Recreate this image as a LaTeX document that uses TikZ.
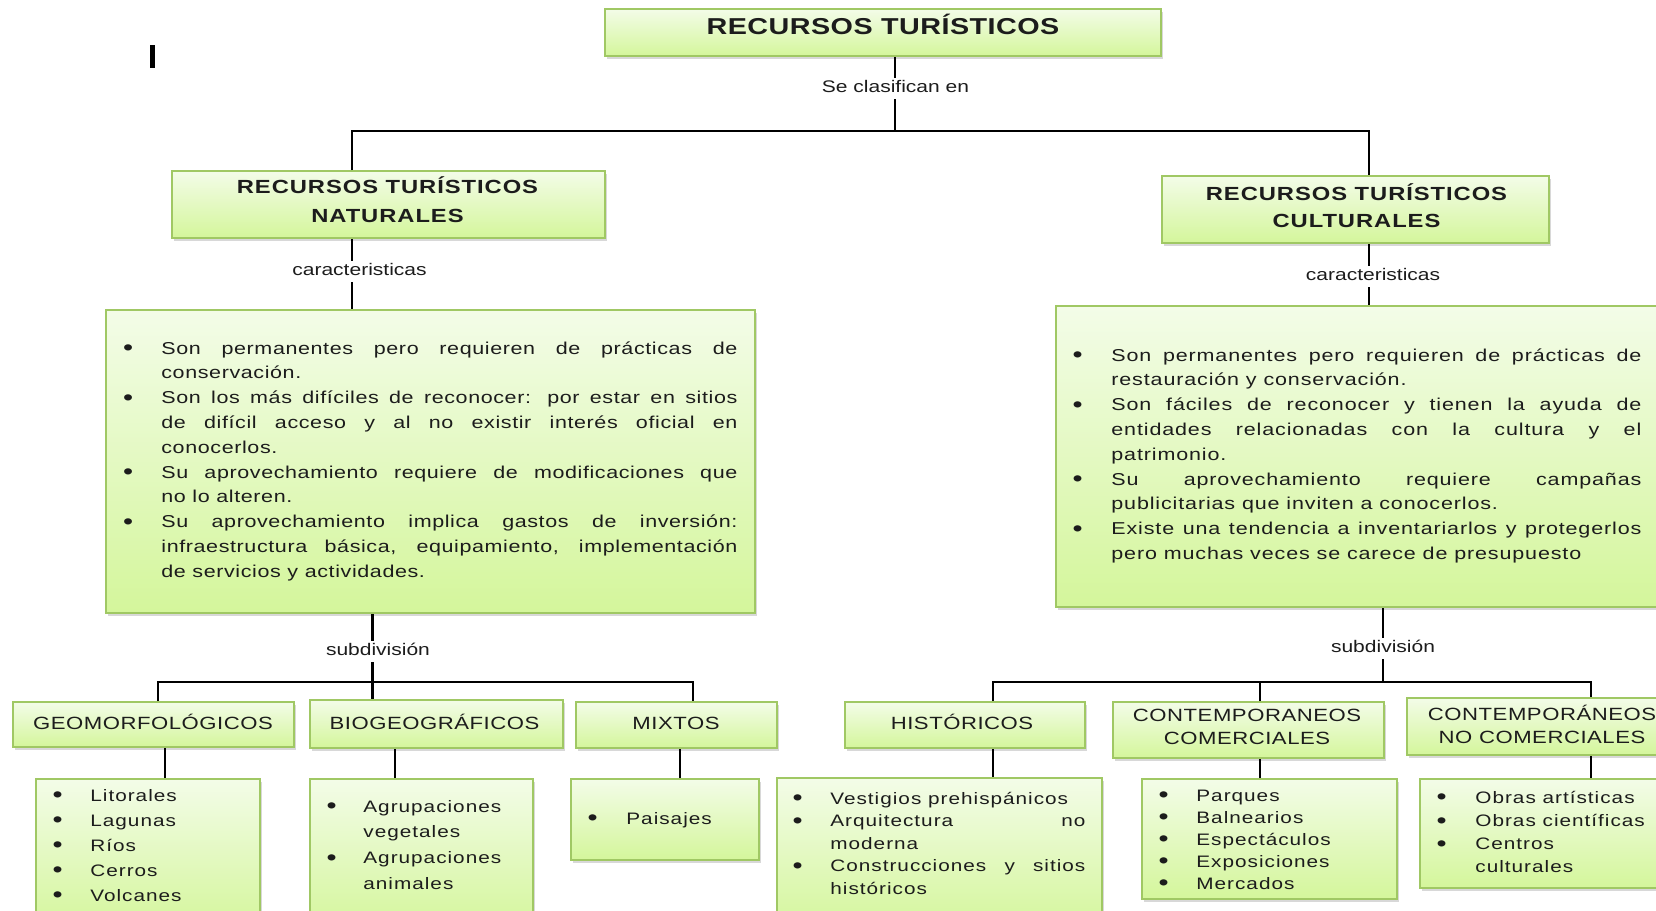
\documentclass[tikz,border=0pt]{standalone}
\usepackage{fontspec}
\setmainfont{Liberation Sans}[FakeStretch=1.25]
\usetikzlibrary{shadows,fit}
\definecolor{gtop}{RGB}{243,252,232}
\definecolor{gbot}{RGB}{212,246,155}
\definecolor{gborder}{RGB}{160,200,100}
\definecolor{ink}{RGB}{28,28,28}
\newlength\hw
\newcommand\bigbul{\raisebox{-0.9pt}{\fontsize{11.5}{11}\selectfont\addfontfeature{LetterSpace=0}\textbullet}}
\newcommand\bitem{\par\noindent\hangindent=\hw\hangafter=1\makebox[\hw][l]{\hspace{-0.6pt}\bigbul}\ignorespaces}
\newcommand\setpar{\tolerance=10000\hyphenpenalty=10000\exhyphenpenalty=10000\parindent=0pt\parskip=0pt}
\tikzset{
  gbox/.style={draw=gborder, line width=1pt, top color=gtop, bottom color=gbot, inner sep=0pt,
    drop shadow={opacity=0.3, shadow xshift=1pt, shadow yshift=-1.5pt}},
  conn/.style={draw=black, line width=1.1pt},
  tx/.style={text=ink, inner sep=0pt},
  ttl/.style={tx, anchor=base, font=\bfseries\fontsize{11.5}{13}\selectfont\addfontfeature{LetterSpace=2}},
  hdr/.style={tx, anchor=base, font=\bfseries\fontsize{9.5}{14.5}\selectfont\addfontfeature{LetterSpace=5}},
  bh/.style={tx, anchor=base, font=\fontsize{8.85}{11.6}\selectfont\addfontfeature{LetterSpace=3}},
  lst/.style={tx, anchor=base west, font=\fontsize{8.3}{12}\selectfont\addfontfeature{LetterSpace=6}},
  big/.style={tx, anchor=base west, font=\fontsize{8.6}{12.4}\selectfont},
  lbl/.style={tx, anchor=base, font=\fontsize{8.4}{10}\selectfont, text height=7pt, text depth=3.5pt},
}
\begin{document}
\begin{tikzpicture}[x=0.5pt, y=-0.5pt]
\useasboundingbox (0,0) rectangle (1656,911);
\clip (0,0) rectangle (1656,911);
\fill[white] (0,0) rectangle (1656,911);

% cursor mark
\fill[black] (150,45) rectangle (155,68);

% boxes
\node[gbox, fit={(605,9) (1161,56)}] (title) {};
\node[gbox, fit={(172,171) (605,238)}] (natH) {};
\node[gbox, fit={(1162,176) (1549,243)}] (culH) {};
\node[gbox, fit={(106,310) (755,613)}] (natB) {};
\node[gbox, fit={(1056,306) (1664,607)}] (culB) {};
\node[gbox, fit={(13,702) (294,747)}] (geo) {};
\node[gbox, fit={(310,700) (563,748)}] (bio) {};
\node[gbox, fit={(576,702) (777,748)}] (mix) {};
\node[gbox, fit={(845,702) (1085,748)}] (hist) {};
\node[gbox, fit={(1113,702) (1384,758)}] (com) {};
\node[gbox, fit={(1407,698) (1677,755)}] (ncom) {};
\node[gbox, fit={(36,779) (260,930)}] (geoL) {};
\node[gbox, fit={(310,779) (533,930)}] (bioL) {};
\node[gbox, fit={(571,779) (759,860)}] (mixL) {};
\node[gbox, fit={(777,778) (1102,930)}] (histL) {};
\node[gbox, fit={(1142,779) (1397,899)}] (comL) {};
\node[gbox, fit={(1420,779) (1690,888)}] (ncomL) {};

% titles
\node[ttl] (titleT) at (883,34.5) {RECURSOS TURÍSTICOS};
\node[hdr] (natT) at (387.5,193) {\parbox[t]{200pt}{\centering RECURSOS TURÍSTICOS\\NATURALES}};
\node[hdr] (culT) at (1356.5,200) {\parbox[t]{200pt}{\baselineskip=13.5pt\centering RECURSOS TURÍSTICOS\\CULTURALES}};

% big texts
\node[big] (natBT) at (124,354) {\parbox[t]{306.5pt}{\addfontfeature{LetterSpace=3.5}\setpar\hw=18.5pt
\bitem Son permanentes pero requieren de prácticas de\linebreak conservación.
\bitem Son los más difíciles de reconocer: por estar en sitios\linebreak de difícil acceso y al no existir interés oficial en\linebreak conocerlos.
\bitem Su aprovechamiento requiere de modificaciones que\linebreak no lo alteren.
\bitem Su aprovechamiento implica gastos de inversión:\linebreak infraestructura básica, equipamiento, implementación\linebreak de servicios y actividades.}};
\node[big] (culBT) at (1073.5,361) {\parbox[t]{283.75pt}{\addfontfeature{LetterSpace=5}\setpar\hw=18.75pt
\bitem Son permanentes pero requieren de prácticas de\linebreak restauración y conservación.
\bitem Son fáciles de reconocer y tienen la ayuda de\linebreak entidades relacionadas con la cultura y el\linebreak patrimonio.
\bitem Su aprovechamiento requiere campañas\linebreak publicitarias que inviten a conocerlos.
\bitem Existe una tendencia a inventariarlos y protegerlos\linebreak pero muchas veces se carece de presupuesto}};

% bottom headers
\node[bh] (geoT) at (153,729) {GEOMORFOLÓGICOS};
\node[bh] (bioT) at (434.5,729) {BIOGEOGRÁFICOS};
\node[bh] (mixT) at (676,729) {MIXTOS};
\node[bh] (histT) at (962,729) {HISTÓRICOS};
\node[bh] (comT) at (1247,721.7) {\parbox[t]{150pt}{\centering CONTEMPORANEOS\\COMERCIALES}};
\node[bh] (ncomT) at (1542,720) {\parbox[t]{150pt}{\centering CONTEMPORÁNEOS\\NO COMERCIALES}};

% lists
\node[lst] (geoLT) at (53.5,801) {\parbox[t]{200pt}{\setpar\hw=18.25pt\baselineskip=12.5pt
\bitem Litorales \bitem Lagunas \bitem Ríos \bitem Cerros \bitem Volcanes}};
\node[lst] (bioLT) at (327.5,812) {\parbox[t]{200pt}{\setpar\hw=17.75pt\baselineskip=12.85pt
\bitem Agrupaciones\newline vegetales \bitem Agrupaciones\newline animales}};
\node[lst] (mixLT) at (588.5,824) {\parbox[t]{200pt}{\setpar\hw=18.75pt
\bitem Paisajes}};
\node[lst] (histLT) at (793.5,804) {\parbox[t]{145.75pt}{\setpar\hw=18.25pt\baselineskip=11.25pt
\bitem Vestigios prehispánicos \bitem Arquitectura no\linebreak moderna \bitem Construcciones y sitios\linebreak históricos}};
\node[lst] (comLT) at (1159.5,801) {\parbox[t]{200pt}{\setpar\hw=18.25pt\baselineskip=11pt
\bitem Parques \bitem Balnearios \bitem Espectáculos \bitem Exposiciones \bitem Mercados}};
\node[lst] (ncomLT) at (1437.5,803) {\parbox[t]{200pt}{\setpar\hw=18.75pt\baselineskip=11.65pt
\bitem Obras artísticas \bitem Obras científicas \bitem Centros\newline culturales}};

% labels
\node[lbl] (sc) at (895.5,92) {Se clasifican en};
\node[lbl] (c1) at (359.5,275) {caracteristicas};
\node[lbl] (c2) at (1373,280) {caracteristicas};
\node[lbl] (s1) at (378,655) {subdivisión};
\node[lbl] (s2) at (1383,652) {subdivisión};

% connectors
\coordinate (jt) at (895,131);
\coordinate (jl) at (352,131);
\coordinate (jr) at (1369,131);
\draw[conn] (jt |- title.south) -- (jt |- sc.north);
\draw[conn] (jt |- sc.south) -- (jt);
\draw[conn] (jl |- natH.north) -- (jl) -- (jr) -- (jr |- culH.north);
\draw[conn] (jl |- natH.south) -- (jl |- c1.north);
\draw[conn] (jl |- c1.south) -- (jl |- natB.north);
\draw[conn] (jr |- culH.south) -- (jr |- c2.north);
\draw[conn] (jr |- c2.south) -- (jr |- culB.north);

\coordinate (sl) at (372.5,682);
\coordinate (gl) at (158,682);
\coordinate (ml) at (693,682);
\draw[conn] (sl |- natB.south) -- (sl |- s1.north);
\draw[conn] (sl |- s1.south) -- (sl) -- (sl |- bio.north);
\draw[conn] (gl |- geo.north) -- (gl) -- (ml) -- (ml |- mix.north);

\coordinate (sr) at (1383,682);
\coordinate (hl) at (993,682);
\coordinate (cl) at (1260,682);
\coordinate (nl) at (1591,682);
\draw[conn] (sr |- culB.south) -- (sr |- s2.north);
\draw[conn] (sr |- s2.south) -- (sr);
\draw[conn] (hl |- hist.north) -- (hl) -- (nl) -- (nl |- ncom.north);
\draw[conn] (cl) -- (cl |- com.north);

\coordinate (d1) at (165,0);
\coordinate (d2) at (395,0);
\coordinate (d3) at (680,0);
\draw[conn] (d1 |- geo.south) -- (d1 |- geoL.north);
\draw[conn] (d2 |- bio.south) -- (d2 |- bioL.north);
\draw[conn] (d3 |- mix.south) -- (d3 |- mixL.north);
\draw[conn] (hl |- hist.south) -- (hl |- histL.north);
\draw[conn] (cl |- com.south) -- (cl |- comL.north);
\draw[conn] (nl |- ncom.south) -- (nl |- ncomL.north);
\end{tikzpicture}
\end{document}
